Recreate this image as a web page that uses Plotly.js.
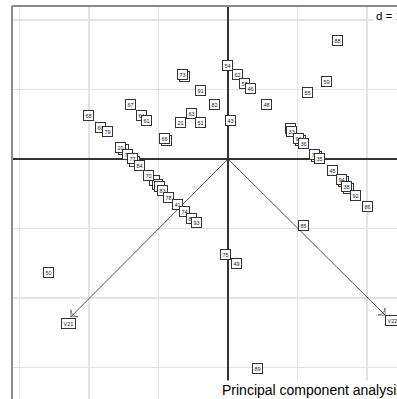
<!DOCTYPE html>
<html>
<head>
<meta charset="utf-8">
<script src="https://cdn.plot.ly/plotly-3.0.1.min.js"></script>
<style>html,body{margin:0;padding:0;background:#fff;}#chart{width:397px;height:399px;}</style>
</head>
<body>
<div id="chart"></div>
<script>
// Row labels and their coordinates on the first two principal axes
var labels = ["73","66","20","77","70","70","70","33","90","75","94","38",
  "88","54","62","57","46","48","59","55","43","73","91","82","63","51","21","66",
  "67","64","61","68","60","79","20","71","77","84","70","83","78","41","74","80","93",
  "33","90","36","75","35","45","94","38","92","86","85","75","49","50","89"];
var xs = [-0.63,-0.89,-1.50,-1.35,-1.06,-1.02,-0.98,0.90,1.05,1.28,1.66,1.74,
  1.58,-0.01,0.13,0.24,0.33,0.55,1.42,1.14,0.03,-0.66,-0.40,-0.20,-0.53,-0.40,-0.69,-0.92,
  -1.40,-1.25,-1.17,-2.01,-1.84,-1.74,-1.54,-1.45,-1.38,-1.28,-1.14,-0.94,-0.85,-0.72,-0.62,-0.53,-0.45,
  0.91,1.02,1.08,1.24,1.32,1.50,1.63,1.70,1.83,2.01,1.08,-0.03,0.12,-2.59,0.43];
var ys = [1.19,0.26,0.14,-0.03,-0.31,-0.36,-0.40,0.44,0.27,0.04,-0.33,-0.43,
  1.71,1.35,1.21,1.09,1.01,0.78,1.11,0.95,0.56,1.22,0.98,0.79,0.66,0.53,0.52,0.29,
  0.78,0.63,0.55,0.63,0.45,0.40,0.17,0.07,0.00,-0.09,-0.24,-0.45,-0.55,-0.65,-0.75,-0.85,-0.92,
  0.40,0.30,0.23,0.07,0.00,-0.17,-0.29,-0.39,-0.52,-0.69,-0.96,-1.37,-1.50,-1.63,-3.01];

// Variable arrows (correlation circle, scaled)
var varNames = ["V21","V22"];
var varX = [-2.26, 2.26];
var varY = [-2.27, -2.245];
var varLabX = [-2.29, 2.36];
var varLabY = [-2.36, -2.33];

var subtitle = "Principal component analysis";
var scaleText = "d = 1";

var traces = [];
for (var i = 0; i < varNames.length; i++) {
  traces.push({
    type: "scatter", mode: "lines+markers",
    x: [0, varX[i]], y: [0, varY[i]],
    line: {color: "#262626", width: 0.8},
    marker: {symbol: ["circle", "arrow-wide-open"], size: [0, 7], angleref: "previous",
             color: "#262626", line: {color: "#262626", width: 0.8}},
    hoverinfo: "skip", showlegend: false, cliponaxis: false
  });
}

var annotations = [];
for (var j = 0; j < labels.length; j++) {
  annotations.push({
    x: xs[j], y: ys[j], xref: "x", yref: "y", text: labels[j], showarrow: false,
    font: {family: "Liberation Sans, Arial, sans-serif", size: 5.5, color: "#222"},
    bgcolor: "#ffffff", bordercolor: "#333", borderwidth: 1, borderpad: 1.5
  });
}
for (var k = 0; k < varNames.length; k++) {
  annotations.push({
    x: varLabX[k], y: varLabY[k], xref: "x", yref: "y", text: varNames[k], showarrow: false,
    font: {family: "Liberation Sans, Arial, sans-serif", size: 5.5, color: "#222"},
    bgcolor: "#ffffff", bordercolor: "#333", borderwidth: 1, borderpad: 1.5
  });
}
annotations.push({
  xref: "paper", yref: "paper", x: 0.9377, y: 0.9746, xanchor: "left", yanchor: "middle",
  text: scaleText, showarrow: false, bgcolor: "#ffffff", borderpad: 2,
  font: {family: "Liberation Sans, Arial, sans-serif", size: 11.5, color: "#000"}
});
annotations.push({
  xref: "paper", yref: "paper", x: 0.540, y: 0.024, xanchor: "left", yanchor: "middle",
  text: subtitle, showarrow: false, bgcolor: "#ffffff", borderpad: 1,
  font: {family: "Liberation Sans, Arial, sans-serif", size: 14, color: "#000"}
});

var layout = {
  width: 397, height: 399,
  margin: {l: 12, r: 0, t: 6, b: 0, pad: 0},
  paper_bgcolor: "#ffffff", plot_bgcolor: "#ffffff",
  showlegend: false,
  xaxis: {range: [-3.108, 2.432], dtick: 1, tick0: 0, showticklabels: false, ticks: "",
          showgrid: true, gridcolor: "#e3e3e3", gridwidth: 1.3,
          zeroline: true, zerolinecolor: "#333", zerolinewidth: 1.1, showline: false, fixedrange: true},
  yaxis: {range: [-3.453, 2.201], dtick: 1, tick0: 0, showticklabels: false, ticks: "",
          showgrid: true, gridcolor: "#e3e3e3", gridwidth: 1.3,
          zeroline: true, zerolinecolor: "#333", zerolinewidth: 1.1, showline: false, fixedrange: true},
  shapes: [
    {type: "line", xref: "paper", yref: "paper", x0: 0, x1: 0, y0: 0, y1: 1, line: {color: "#8a8a8a", width: 2}},
    {type: "line", xref: "paper", yref: "paper", x0: 0, x1: 1, y0: 1, y1: 1, line: {color: "#8a8a8a", width: 2}}
  ],
  annotations: annotations
};

Plotly.newPlot("chart", traces, layout, {displayModeBar: false, staticPlot: true});
</script>
</body>
</html>
